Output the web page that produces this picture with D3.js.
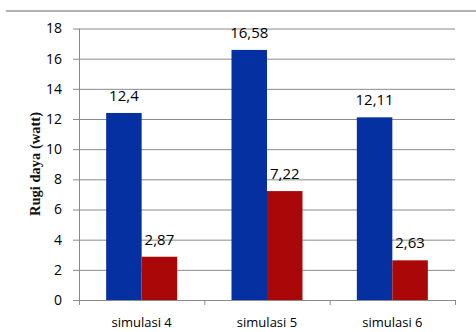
<!DOCTYPE html>
<html>
<head>
<meta charset="utf-8">
<script src="https://cdn.jsdelivr.net/npm/d3@7"></script>
<style>
  html, body { margin: 0; padding: 0; background: #fff; }
  svg { display: block; }
</style>
</head>
<body>
<svg id="chart" width="476" height="332"></svg>
<script>
// Power loss per simulation run, two series per run
const categories = ["simulasi 4", "simulasi 5", "simulasi 6"];
const seriesNames = ["a", "b"];
const seriesA = [12.4, 16.58, 12.11];
const seriesB = [2.87, 7.22, 2.63];
const yTicks = [0, 2, 4, 6, 8, 10, 12, 14, 16, 18];
const yTitle = "Rugi daya (watt)";

const colors = { a: "#0530a2", b: "#aa0808" };
const fmt = v => String(v).replace(".", ",");
const sans = "'Open Sans', sans-serif";

const svg = d3.select("#chart");
const plot = { left: 79, right: 455, top: 28.5, bottom: 300 };

const y = d3.scaleLinear().domain([0, 18]).range([plot.bottom, plot.top]);
const x0 = d3.scaleBand().domain(categories).range([plot.left, plot.right]).padding(0);
const x1 = d3.scaleBand().domain(seriesNames).range([0, x0.bandwidth()])
  .paddingInner(0).paddingOuter(0.765);

// rule across the top
svg.append("line")
  .attr("x1", 6).attr("x2", 476).attr("y1", 11).attr("y2", 11)
  .attr("stroke", "#9a9a9a").attr("stroke-width", 1.5);

// y axis with full-width gridlines
const yAxis = svg.append("g")
  .attr("transform", `translate(${plot.left},0)`)
  .call(d3.axisLeft(y).tickValues(yTicks).tickSize(6).tickPadding(11)
    .tickFormat(d => d));
yAxis.select(".domain").attr("stroke", "#8a8a8a").attr("d", `M0.5,${plot.top}V${plot.bottom}`);
yAxis.selectAll(".tick line").attr("stroke", "#8a8a8a")
  .attr("x1", -6).attr("x2", plot.right - plot.left);
yAxis.selectAll(".tick text")
  .attr("font-family", sans).attr("font-size", 14)
  .attr("fill", "#000");

// x axis
const xAxis = svg.append("g")
  .attr("transform", `translate(0,${plot.bottom})`)
  .call(d3.axisBottom(x0).tickSize(0).tickPadding(18));
xAxis.select(".domain").remove();
xAxis.selectAll(".tick text")
  .attr("font-family", sans).attr("font-size", 13)
  .attr("fill", "#000");

// category separators on the baseline
const seps = [plot.left, ...categories.map(c => x0(c) + x0.bandwidth())];
svg.append("g").selectAll("line").data(seps).join("line")
  .attr("x1", d => d + 0.5).attr("x2", d => d + 0.5)
  .attr("y1", plot.bottom).attr("y2", plot.bottom + 5)
  .attr("stroke", "#8a8a8a");

// bars
const rows = categories.map((c, i) => ({ c, a: seriesA[i], b: seriesB[i] }));
const groups = svg.append("g").selectAll("g").data(rows).join("g")
  .attr("transform", d => `translate(${x0(d.c)},0)`);
groups.selectAll("rect")
  .data(d => seriesNames.map(k => ({ k, v: d[k] })))
  .join("rect")
  .attr("x", d => x1(d.k))
  .attr("width", x1.bandwidth())
  .attr("y", d => y(d.v))
  .attr("height", d => y(0) - y(d.v))
  .attr("fill", d => colors[d.k]);

// value labels
groups.selectAll("text")
  .data(d => seriesNames.map(k => ({ k, v: d[k] })))
  .join("text")
  .attr("x", d => x1(d.k) + x1.bandwidth() / 2)
  .attr("y", d => y(d.v) - 12)
  .attr("text-anchor", "middle")
  .attr("font-family", sans).attr("font-size", 15)
  .attr("fill", "#000")
  .text(d => fmt(d.v));

// y axis title
svg.append("text")
  .attr("transform", "translate(39.5,164) rotate(-90)")
  .attr("text-anchor", "middle")
  .attr("font-family", "'Liberation Serif', serif").attr("font-weight", "bold")
  .attr("font-size", 14.5).attr("fill", "#111")
  .text(yTitle);
</script>
</body>
</html>
